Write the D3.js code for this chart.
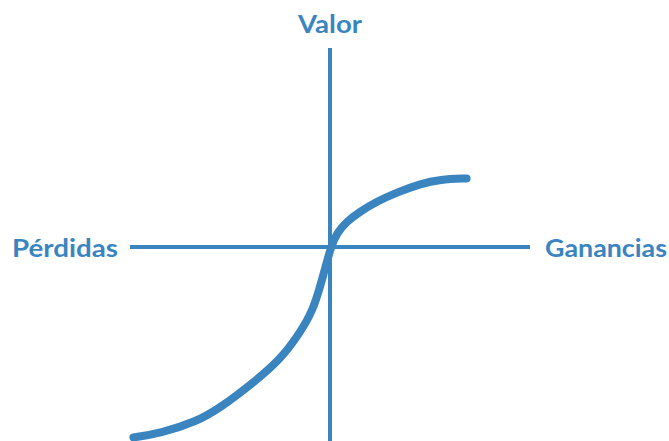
<!DOCTYPE html>
<html>
<head>
<meta charset="utf-8">
<script src="https://cdn.jsdelivr.net/npm/d3@7"></script>
<style>
  html, body { margin: 0; padding: 0; background: #fff; }
  svg { display: block; }
</style>
</head>
<body>
<script>
// value function (losses / gains)
const gains = [-9.83, -8.5, -6.67, -5.5, -3.85, -2.5, -1.5, -0.85, -0.5, -0.2, 0.05, 0.33, 0.83, 1.5, 2.33, 3.33, 4.5, 5.5, 6.83];
const values = [-9.52, -9.32, -8.73, -8.05, -6.8, -5.65, -4.3, -3.15, -2.0, -0.9, 0, 0.68, 1.27, 1.77, 2.27, 2.72, 3.15, 3.38, 3.43];
const axisLabels = ["Valor", "Pérdidas", "Ganancias"];

const width = 669, height = 441;
const blue = "#3a85c0";

const x = d3.scaleLinear().domain([-10, 10]).range([130, 530]);
const y = d3.scaleLinear().domain([-10, 10]).range([447, 47]);

const svg = d3.select("body").append("svg")
  .attr("width", width)
  .attr("height", height);

// axes
svg.append("line")
  .attr("x1", x(-10)).attr("x2", x(10))
  .attr("y1", y(0)).attr("y2", y(0))
  .attr("stroke", blue).attr("stroke-width", 4);

svg.append("line")
  .attr("x1", x(0)).attr("x2", x(0))
  .attr("y1", y(9.95)).attr("y2", y(-10))
  .attr("stroke", blue).attr("stroke-width", 4);

// curve
const pts = gains.map((g, i) => [g, values[i]]);
svg.append("path")
  .datum(pts)
  .attr("d", d3.line().x(d => x(d[0])).y(d => y(d[1])).curve(d3.curveBasis))
  .attr("fill", "none")
  .attr("stroke", blue)
  .attr("stroke-width", 8)
  .attr("stroke-linecap", "round");

// labels
const font = "Lato, 'Open Sans', sans-serif";
svg.append("text")
  .attr("x", x(0)).attr("y", 33)
  .attr("text-anchor", "middle")
  .attr("textLength", 64).attr("lengthAdjust", "spacingAndGlyphs")
  .style("font-family", font).style("font-weight", 700).style("font-size", "24px")
  .attr("fill", blue)
  .text(axisLabels[0]);

svg.append("text")
  .attr("x", 118).attr("y", 257)
  .attr("text-anchor", "end")
  .attr("textLength", 106).attr("lengthAdjust", "spacingAndGlyphs")
  .style("font-family", font).style("font-weight", 700).style("font-size", "24px")
  .attr("fill", blue)
  .text(axisLabels[1]);

svg.append("text")
  .attr("x", 545).attr("y", 257)
  .attr("textLength", 122).attr("lengthAdjust", "spacingAndGlyphs")
  .style("font-family", font).style("font-weight", 700).style("font-size", "24px")
  .attr("fill", blue)
  .text(axisLabels[2]);
</script>
</body>
</html>
